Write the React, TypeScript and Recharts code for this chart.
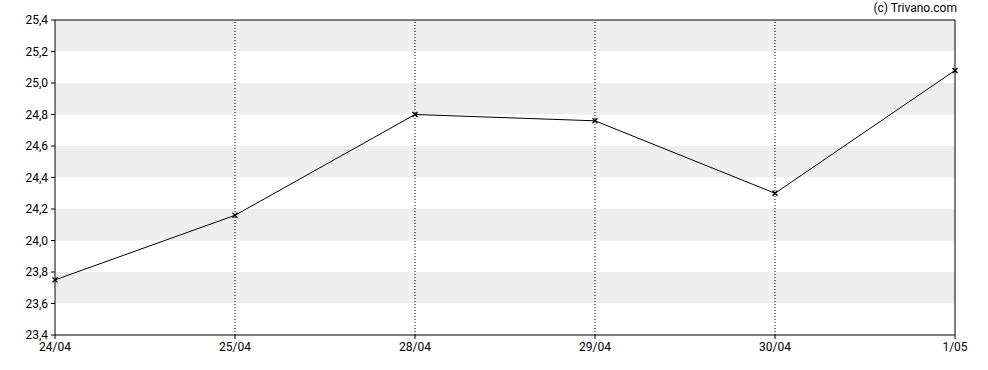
import { Line, LineChart, ReferenceArea, ReferenceLine, XAxis, YAxis } from 'recharts';

const dates = ['24/04', '25/04', '28/04', '29/04', '30/04', '1/05'];
const prices = [23.75, 24.16, 24.8, 24.76, 24.3, 25.08];
const yTicks = [23.4, 23.6, 23.8, 24.0, 24.2, 24.4, 24.6, 24.8, 25.0, 25.2, 25.4];
const bands = [
  [23.6, 23.8],
  [24.0, 24.2],
  [24.4, 24.6],
  [24.8, 25.0],
  [25.2, 25.4],
];

const data = dates.map((d, i) => ({ d, v: prices[i] }));

const fmt = (v: number) => v.toFixed(1).replace('.', ',');

function Cross(props: any) {
  const { cx, cy } = props;
  if (cx == null || cy == null) return null;
  const s = 2.5;
  return (
    <g stroke="#000" strokeWidth={1.4}>
      <line x1={cx - s} y1={cy - s} x2={cx + s} y2={cy + s} />
      <line x1={cx - s} y1={cy + s} x2={cx + s} y2={cy - s} />
    </g>
  );
}

export default function App() {
  const tick = { fill: '#000', fontSize: 12, fontFamily: 'Roboto' };
  return (
    <div style={{ position: 'absolute', left: 0, top: 0, width: 988, height: 370, background: '#fff' }}>
      <div
        style={{
          position: 'absolute',
          right: 31,
          top: 1,
          fontFamily: 'Roboto',
          fontSize: 12,
          color: '#000',
        }}
      >
        (c) Trivano.com
      </div>
      <LineChart width={988} height={370} data={data} margin={{ top: 20, right: 33, left: 0, bottom: 0 }}>
        {bands.map(([a, b], i) => (
          <ReferenceArea key={i} y1={a} y2={b} fill="#eeeeee" fillOpacity={1} stroke="none" />
        ))}
        {dates.slice(1, -1).map((d) => (
          <ReferenceLine key={d} x={d} stroke="#000" strokeDasharray="1 2" />
        ))}
        <XAxis
          dataKey="d"
          scale="point"
          padding={{ left: 0, right: 0 }}
          height={35}
          tick={tick}
          tickSize={4}
          tickMargin={3}
          stroke="#000"
          interval={0}
        />
        <YAxis
          domain={[23.4, 25.4]}
          ticks={yTicks}
          width={55}
          tick={tick}
          tickSize={4}
          tickMargin={3}
          tickFormatter={fmt}
          stroke="#000"
          interval={0}
        />
        <ReferenceLine y={25.4} stroke="#000" />
        <ReferenceLine x="1/05" stroke="#000" />
        <Line
          dataKey="v"
          stroke="#000"
          strokeWidth={1}
          dot={<Cross />}
          activeDot={false}
          isAnimationActive={false}
        />
      </LineChart>
    </div>
  );
}
